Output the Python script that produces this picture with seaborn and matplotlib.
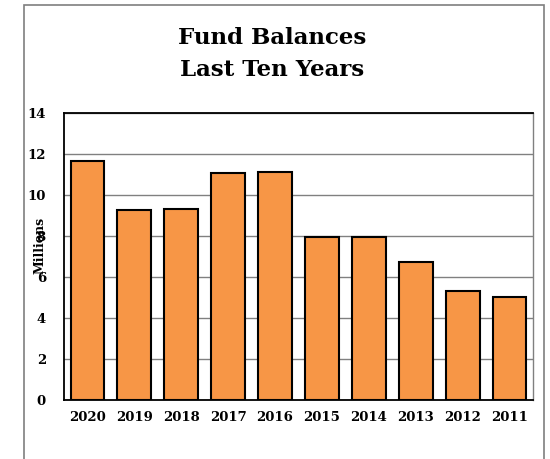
import matplotlib
matplotlib.use("Agg")
import matplotlib.pyplot as plt
import seaborn as sns
import pandas as pd
from matplotlib.patches import Rectangle

years = ["2020", "2019", "2018", "2017", "2016", "2015", "2014", "2013", "2012", "2011"]
balances = [11.65, 9.25, 9.33, 11.07, 11.12, 7.97, 7.97, 6.72, 5.32, 5.04]
y_ticks = [0, 2, 4, 6, 8, 10, 12, 14]

df = pd.DataFrame({"Year": years, "Balance": balances})

sns.set_theme(style="white")
plt.rcParams["font.family"] = ["DejaVu Serif"]
plt.rcParams["text.color"] = "black"
plt.rcParams["xtick.color"] = "black"
plt.rcParams["ytick.color"] = "black"

W, H = 550, 459
fig = plt.figure(figsize=(W / 100, H / 100), dpi=100)
ax = fig.add_axes([64 / W, 1 - 400 / H, (533 - 64) / W, (400 - 113) / H])

# outer chart frame
fig.patches.append(Rectangle((24 / W, -0.01), (544 - 24) / W, 1 - 5 / H + 0.01,
                             transform=fig.transFigure, fill=False,
                             edgecolor="#7f7f7f", linewidth=1.2, zorder=0))

sns.barplot(data=df, x="Year", y="Balance", order=years, color="#F79646",
            edgecolor="black", linewidth=1.5, width=0.72, saturation=1, ax=ax,
            zorder=3)

ax.set_ylim(0, 14)
ax.set_yticks(y_ticks)
ax.set_yticklabels([str(t) for t in y_ticks])
ax.yaxis.grid(True, color="#808080", linewidth=1.0, zorder=0)
ax.set_axisbelow(True)
ax.tick_params(axis="both", length=0, labelsize=9.5, labelcolor="black")
ax.tick_params(axis="y", pad=13)
ax.tick_params(axis="x", pad=8)
for lab in ax.get_xticklabels() + ax.get_yticklabels():
    lab.set_fontweight("bold")

for side in ["left", "bottom", "top"]:
    ax.spines[side].set_color("black")
    ax.spines[side].set_linewidth(1.3)
ax.spines["right"].set_color("#808080")
ax.spines["right"].set_linewidth(1.0)

ax.set_xlabel("")
ax.set_ylabel("")
fig.text(40 / W, 1 - 245 / H, "Millions", rotation=90, ha="center", va="center",
         fontsize=9, fontweight="bold", color="black")

fig.text(272 / W, 1 - 54 / H, "Fund Balances\nLast Ten Years", ha="center",
         va="center", fontsize=16.5, fontweight="bold", linespacing=1.6,
         color="black")

fig.savefig("out.png", dpi=100)
